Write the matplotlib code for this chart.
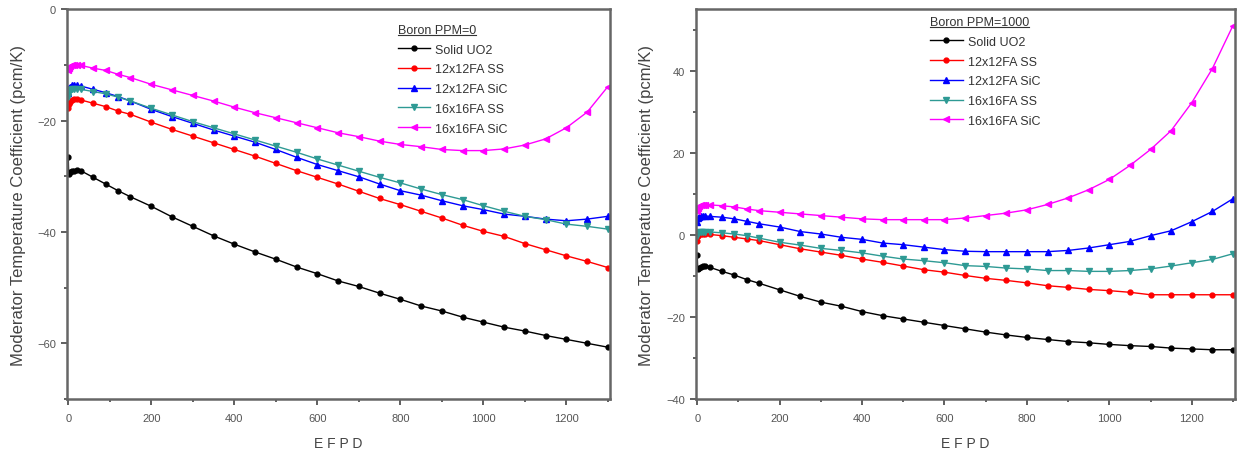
import numpy as np
import matplotlib
matplotlib.use("Agg")
import matplotlib.pyplot as plt
from matplotlib.ticker import MultipleLocator
from matplotlib.lines import Line2D

plt.rcParams['font.family'] = ['Liberation Sans', 'DejaVu Sans']

# burnup steps (EFPD)
efpd = [0, 1, 5, 10, 15, 20, 30, 60, 90, 120, 150] + list(range(200, 1301, 50))

labels = ['Solid UO2', '12x12FA SS', '12x12FA SiC', '16x16FA SS', '16x16FA SiC']

# Boron PPM = 0
b0_uo2 = [-26.5, -29.6, -29.3, -29.1, -29.0, -28.9, -29.0, -30.2, -31.4, -32.6, -33.7,
          -35.4, -37.3, -39.0, -40.7, -42.2, -43.6, -44.9, -46.3, -47.5, -48.8, -49.8,
          -51.0, -52.1, -53.3, -54.2, -55.3, -56.2, -57.1, -57.8, -58.6, -59.3, -60.0, -60.7]
b0_12ss = [-17.8, -17.0, -16.6, -16.3, -16.2, -16.2, -16.3, -16.9, -17.5, -18.3, -18.9,
           -20.3, -21.6, -22.8, -24.0, -25.2, -26.4, -27.7, -29.0, -30.2, -31.4, -32.7,
           -34.0, -35.1, -36.3, -37.5, -38.8, -39.9, -40.8, -42.1, -43.2, -44.3, -45.3, -46.4]
b0_12sic = [-15.0, -14.2, -13.9, -13.7, -13.6, -13.6, -13.8, -14.4, -15.0, -15.7, -16.5,
            -18.0, -19.3, -20.5, -21.7, -22.8, -23.9, -25.2, -26.6, -27.9, -29.0, -30.1,
            -31.4, -32.6, -33.4, -34.4, -35.3, -36.0, -36.8, -37.2, -37.7, -38.0, -37.7, -37.2]
b0_16ss = [-15.8, -15.0, -14.6, -14.4, -14.3, -14.3, -14.4, -14.8, -15.2, -15.8, -16.5,
           -17.8, -19.0, -20.2, -21.3, -22.4, -23.5, -24.6, -25.7, -26.9, -28.0, -29.1,
           -30.2, -31.2, -32.3, -33.3, -34.2, -35.3, -36.3, -37.2, -37.8, -38.6, -39.0, -39.5]
b0_16sic = [-11.0, -10.5, -10.2, -10.0, -10.0, -10.0, -10.1, -10.6, -11.0, -11.7, -12.3,
            -13.5, -14.5, -15.5, -16.5, -17.6, -18.6, -19.5, -20.4, -21.3, -22.2, -22.9,
            -23.7, -24.3, -24.7, -25.2, -25.4, -25.4, -25.1, -24.4, -23.3, -21.3, -18.5, -13.9]

# Boron PPM = 1000
b1_uo2 = [-4.9, -8.3, -8.0, -7.8, -7.7, -7.7, -7.9, -8.9, -9.8, -10.9, -11.8,
          -13.4, -15.0, -16.4, -17.4, -18.7, -19.7, -20.5, -21.3, -22.1, -22.9, -23.7,
          -24.4, -25.0, -25.5, -26.0, -26.3, -26.7, -27.0, -27.2, -27.6, -27.8, -28.0, -28.0]
b1_12ss = [-1.4, -0.2, 0.1, 0.2, 0.2, 0.2, 0.1, -0.2, -0.6, -1.0, -1.4,
           -2.4, -3.4, -4.2, -5.0, -5.9, -6.7, -7.6, -8.5, -9.1, -9.9, -10.6,
           -11.1, -11.7, -12.4, -12.8, -13.3, -13.6, -14.0, -14.6, -14.6, -14.6, -14.6, -14.6]
b1_12sic = [3.1, 4.0, 4.4, 4.6, 4.6, 4.6, 4.5, 4.3, 3.9, 3.3, 2.7,
            1.9, 0.8, 0.2, -0.6, -1.1, -2.0, -2.4, -3.0, -3.6, -4.0, -4.1,
            -4.1, -4.1, -4.1, -3.8, -3.2, -2.4, -1.6, -0.2, 1.0, 3.2, 5.7, 8.8]
b1_16ss = [-0.2, 0.4, 0.6, 0.7, 0.7, 0.7, 0.7, 0.5, 0.2, -0.2, -0.8,
           -1.8, -2.5, -3.3, -3.8, -4.4, -5.2, -5.9, -6.3, -6.8, -7.5, -7.7,
           -8.1, -8.3, -8.7, -8.7, -8.9, -8.9, -8.7, -8.3, -7.6, -6.8, -6.0, -4.6]
b1_16sic = [5.9, 6.6, 7.0, 7.2, 7.3, 7.3, 7.3, 7.1, 6.8, 6.3, 5.9,
            5.5, 5.1, 4.7, 4.3, 3.9, 3.7, 3.7, 3.7, 3.7, 4.1, 4.7,
            5.3, 6.1, 7.4, 9.0, 11.0, 13.5, 16.9, 20.8, 25.4, 32.2, 40.5, 51.0]

colors = ['black', '#ff0000', '#0000ff', '#2e9a94', '#ff00ff']
markers = ['o', 'o', '^', 'v', '<']
msizes = [3.5, 3.5, 5, 5, 5]

fig = plt.figure(figsize=(12.38, 4.56), dpi=100)
ax1 = fig.add_axes([0.0541, 0.1228, 0.4386, 0.855])
ax2 = fig.add_axes([0.5622, 0.1228, 0.4354, 0.855])

def draw(ax, series, title, ylim, anchor):
    for s, c, m, ms, lab in zip(series, colors, markers, msizes, labels):
        ax.plot(efpd, s, color=c, marker=m, markersize=ms, lw=1.0, label=lab)
    ax.set_xlim(-3, 1305)
    ax.set_ylim(*ylim)
    ax.xaxis.set_major_locator(MultipleLocator(200))
    ax.xaxis.set_minor_locator(MultipleLocator(100))
    ax.yaxis.set_major_locator(MultipleLocator(20))
    ax.yaxis.set_minor_locator(MultipleLocator(10))
    ax.tick_params(which='major', direction='out', length=4, width=1.2,
                   labelsize=8, colors='#444444', labelcolor='#555555')
    ax.tick_params(axis='x', which='major', pad=6)
    ax.tick_params(axis='y', which='major', pad=4)
    ax.tick_params(which='minor', direction='out', length=2.5, width=1.2, colors='#444444')
    for sp in ax.spines.values():
        sp.set_color('#666666')
        sp.set_linewidth(1.8)
    ax.set_xlabel('E F P D', fontsize=10, color='#444444')
    ax.xaxis.set_label_coords(0.5, -0.095)
    ax.set_ylabel('Moderator Temperature Coefficient (pcm/K)', fontsize=12, color='#444444')
    leg = ax.legend(loc='upper left', bbox_to_anchor=anchor, frameon=False,
                    fontsize=9, title=title, title_fontsize=9,
                    handlelength=2.6, handletextpad=0.4, labelspacing=0.62,
                    borderaxespad=0, alignment='left')
    leg.get_title().set_color('#333333')
    for t in leg.get_texts():
        t.set_color('#333333')
    return leg

leg1 = draw(ax1, [b0_uo2, b0_12ss, b0_12sic, b0_16ss, b0_16sic], 'Boron PPM=0', (-70, 0), (0.6, 0.975))
leg2 = draw(ax2, [b1_uo2, b1_12ss, b1_12sic, b1_16ss, b1_16sic], 'Boron PPM=1000', (-40, 55), (0.425, 0.995))
ax1.yaxis.set_label_coords(-0.075, 0.5)
ax2.yaxis.set_label_coords(-0.078, 0.5)

# underline legend titles
fig.canvas.draw()
for leg in (leg1, leg2):
    bb = leg.get_title().get_window_extent()
    inv = fig.transFigure.inverted()
    (x0, y0), (x1, _) = inv.transform([(bb.x0, bb.y0 + 1), (bb.x1, bb.y0)])
    fig.add_artist(Line2D([x0, x1], [y0, y0], transform=fig.transFigure,
                          color='#333333', lw=0.8))

fig.savefig('out.png', dpi=100)
